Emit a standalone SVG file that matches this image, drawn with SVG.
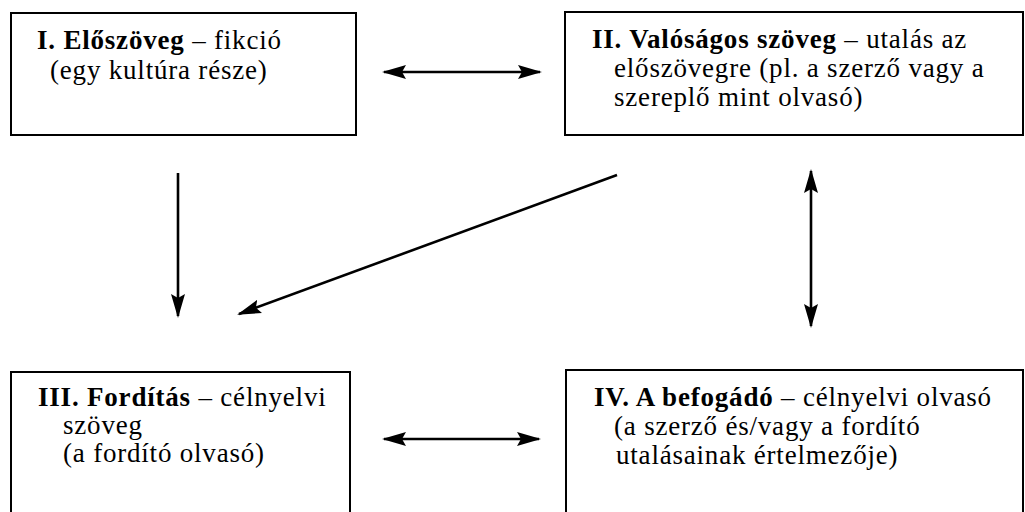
<svg xmlns="http://www.w3.org/2000/svg" width="1025" height="512" viewBox="0 0 1025 512">
<style>
.box{fill:#fff;stroke:#000;stroke-width:2}
.t{font-family:"Liberation Serif","DejaVu Serif",serif;font-size:27px;letter-spacing:0.8px;fill:#000}
.b{font-weight:bold}
.c{stroke:#000;stroke-width:2.6;fill:none}
</style>
<defs>
<marker id="ah" viewBox="0 0 24 16" refX="22" refY="8" markerWidth="24" markerHeight="16" markerUnits="userSpaceOnUse" orient="auto-start-reverse">
<path d="M0,1 L24,8 L0,15 L4,8 z" fill="#000"/>
</marker>
</defs>
<rect width="1025" height="512" fill="#fff"/>
<g id="node1">
<rect class="box" x="11" y="13" width="345" height="122"/>
<text class="t" x="37" y="49"><tspan class="b">I. Előszöveg</tspan> – fikció</text>
<text class="t" x="50" y="79">(egy kultúra része)</text>
</g>
<g id="node2">
<rect class="box" x="565" y="12" width="458" height="123"/>
<text class="t" x="592" y="48"><tspan class="b">II. Valóságos szöveg</tspan> – utalás az</text>
<text class="t" x="614" y="77">előszövegre (pl. a szerző vagy a</text>
<text class="t" x="614" y="106">szereplő mint olvasó)</text>
</g>
<g id="node3">
<rect class="box" x="11" y="372" width="339" height="160"/>
<text class="t" x="38" y="406"><tspan class="b">III. Fordítás</tspan> – célnyelvi</text>
<text class="t" x="63" y="434">szöveg</text>
<text class="t" x="63" y="462">(a fordító olvasó)</text>
</g>
<g id="node4">
<rect class="box" x="566" y="370" width="457" height="160"/>
<text class="t" x="594" y="406"><tspan class="b">IV. A befogádó</tspan> – célnyelvi olvasó</text>
<text class="t" x="614" y="435">(a szerző és/vagy a fordító</text>
<text class="t" x="616" y="464">utalásainak értelmezője)</text>
</g>
<g id="connectors">
<line class="c" x1="384" y1="72" x2="540" y2="72" marker-start="url(#ah)" marker-end="url(#ah)"/>
<line class="c" x1="384" y1="439" x2="539" y2="439" marker-start="url(#ah)" marker-end="url(#ah)"/>
<line class="c" x1="178" y1="173" x2="178" y2="316" marker-end="url(#ah)"/>
<line class="c" x1="617" y1="175" x2="239" y2="314" marker-end="url(#ah)"/>
<line class="c" x1="811" y1="171" x2="811" y2="326" marker-start="url(#ah)" marker-end="url(#ah)"/>
</g>
</svg>
